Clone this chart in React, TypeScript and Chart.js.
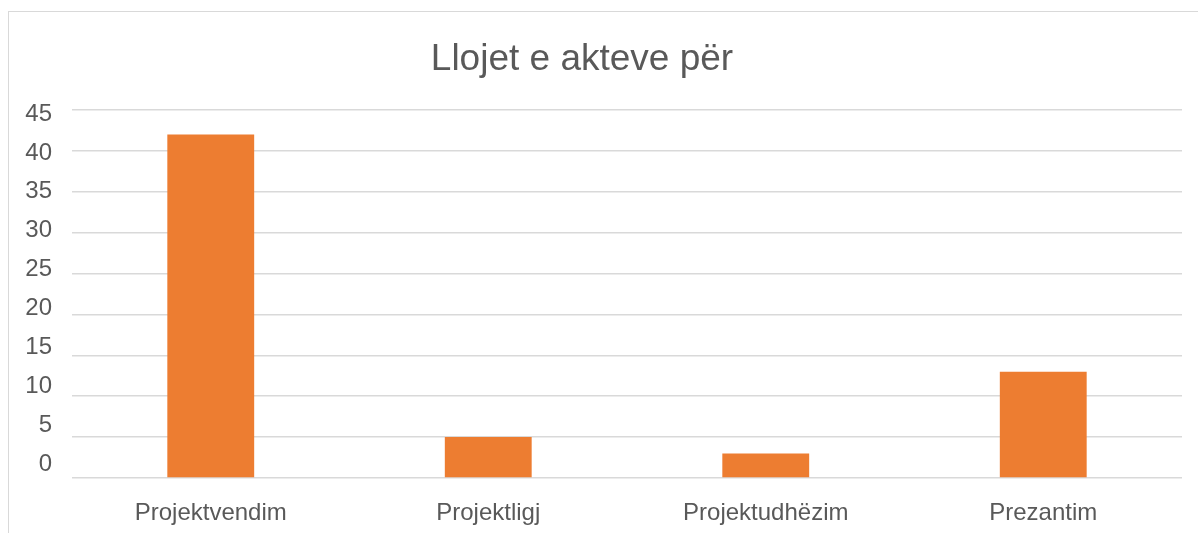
import React, { useEffect, useRef } from "react";
import { Chart, registerables } from "chart.js";

Chart.register(...registerables);

const TITLE = "Llojet e akteve për";
const categories = ["Projektvendim", "Projektligj", "Projektudhëzim", "Prezantim"];
const values = [42, 5, 3, 13];
const yTicks = [0, 5, 10, 15, 20, 25, 30, 35, 40, 45];

const FONT = "'Liberation Sans', Arial, sans-serif";

const titlePlugin = {
  id: "customTitle",
  afterDraw(chart: any) {
    const ctx = chart.ctx;
    ctx.save();
    ctx.font = `37px ${FONT}`;
    ctx.fillStyle = "#595959";
    ctx.textAlign = "center";
    ctx.textBaseline = "alphabetic";
    ctx.fillText(TITLE, 573, 57.5);
    ctx.restore();
  },
};

export default function App() {
  const ref = useRef<HTMLCanvasElement>(null);
  useEffect(() => {
    document.body.style.margin = "0";
    const chart = new Chart(ref.current!, {
      type: "bar",
      data: {
        labels: categories,
        datasets: [
          {
            data: values,
            backgroundColor: "#ED7D31",
            barPercentage: 0.313,
            categoryPercentage: 1,
            yAxisID: "y",
          },
        ],
      },
      options: {
        animation: false,
        responsive: false,
        maintainAspectRatio: false,
        layout: { padding: { top: 98, right: 16, bottom: 0, left: 0 } },
        plugins: {
          legend: { display: false },
          title: { display: false },
          tooltip: { enabled: false },
        },
        scales: {
          x: {
            grid: { display: false, drawTicks: false },
            border: { display: false },
            ticks: {
              color: "#595959",
              font: { family: FONT, size: 24 },
              padding: 21,
              maxRotation: 0,
            },
            afterFit: (s: any) => {
              s.height = 58;
            },
          },
          y: {
            position: "left",
            min: 0,
            max: 45,
            afterBuildTicks: (s: any) => {
              s.ticks = yTicks.map((v) => ({ value: v }));
            },
            grid: { color: "#d9d9d9", lineWidth: 1.5, drawTicks: false },
            border: { display: false },
            ticks: { display: false },
            afterFit: (s: any) => {
              s.width = 0;
            },
          },
          yLabels: {
            position: "left",
            min: -1.8,
            max: 45.514,
            afterBuildTicks: (s: any) => {
              s.ticks = yTicks.map((v) => ({ value: v }));
            },
            grid: { display: false, drawTicks: false },
            border: { display: false },
            ticks: {
              color: "#595959",
              font: { family: FONT, size: 24 },
              padding: 20,
            },
            afterFit: (s: any) => {
              s.width = 63;
            },
          },
        },
      },
      plugins: [titlePlugin],
    });
    return () => chart.destroy();
  }, []);

  return (
    <div style={{ position: "relative", width: 1198, height: 533, overflow: "hidden", background: "#fff" }}>
      <div
        style={{
          position: "absolute",
          left: 8,
          top: 11,
          width: 1250,
          height: 600,
          border: "1px solid #d9d9d9",
          boxSizing: "border-box",
        }}
      >
        <canvas ref={ref} width={1189} height={524} style={{ display: "block", width: 1189, height: 524 }} />
      </div>
    </div>
  );
}
